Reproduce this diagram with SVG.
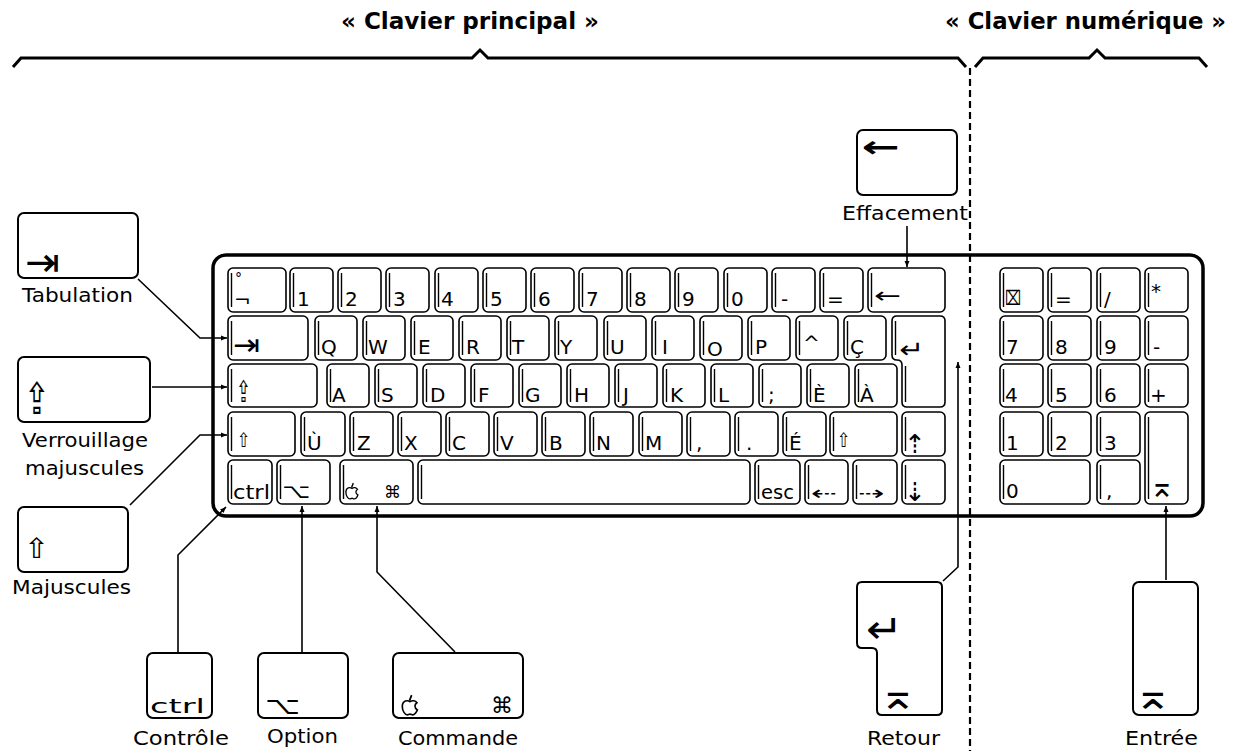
<svg xmlns="http://www.w3.org/2000/svg" width="1236" height="751" viewBox="0 0 1236 751">
<style>
.k{fill:#fff;stroke:#000;stroke-width:1.6}
.d{fill:none;stroke:#000;stroke-width:1.4}
.t{font-family:"DejaVu Sans","Liberation Sans",sans-serif;font-size:20px;fill:#000}
.s{font-family:"DejaVu Sans","Liberation Sans",sans-serif;fill:#000}
.lb{font-family:"DejaVu Sans","Liberation Sans",sans-serif;font-size:20px;fill:#000}
.h{font-family:"DejaVu Sans","Liberation Sans",sans-serif;font-size:23px;font-weight:bold;fill:#000}
.bx{fill:#fff;stroke:#000;stroke-width:2}
.c{fill:none;stroke:#000;stroke-width:1.6}
.br{fill:none;stroke:#000;stroke-width:3}
</style>
<defs>
<marker id="ah" markerWidth="8" markerHeight="8" refX="6" refY="4" orient="auto" markerUnits="userSpaceOnUse"><path d="M0,1.5 L6,4 L0,6.5 z" fill="#000"/></marker>
<symbol id="apple" viewBox="0 0 16 20"><path d="M9.5 1 L7.5 6" fill="none" stroke="#000" stroke-width="1.6"/><path d="M8 7 C6 5.5 1 5.5 1 11.5 C1 16 4 19 5.5 19 C6.5 19 7 18.3 8 18.3 C9 18.3 9.5 19 10.5 19 C12 19 14 16.5 14.7 14.5 C13 13.5 12.5 12 12.5 11 C12.5 9.5 13.5 8.5 14.3 8 C13 6 10 5.5 8 7 Z" fill="none" stroke="#000" stroke-width="1.5"/></symbol>
</defs>
<rect width="1236" height="751" fill="#fff"/>

<g id="headers">
<text class="h" x="341" y="29" textLength="258" lengthAdjust="spacingAndGlyphs">« Clavier principal »</text>
<text class="h" x="945" y="29" textLength="281" lengthAdjust="spacingAndGlyphs">« Clavier numérique »</text>
<path class="br" d="M13 67 L21 58 L472 58 L480 50 L488 58 L958 58 L966 67"/>
<path class="br" d="M975 67 L983 58 L1089 58 L1097 50 L1105 58 L1199 58 L1207 67"/>
</g>

<g id="keyboard">
<rect x="213" y="255" width="990" height="261" rx="13" fill="#fff" stroke="#000" stroke-width="3.5"/>
<!-- row 1 -->
<g id="k-deg"><rect class="k" x="228" y="268" width="58" height="44" rx="5"/><path class="d" d="M231.5 273V307"/><text class="s" x="235" y="283" font-size="14">°</text><text class="t" x="234" y="307">¬</text></g>
<g id="k-1"><rect class="k" x="290" y="268" width="43" height="44" rx="5"/><path class="d" d="M293.5 273V307"/><text class="t" x="297" y="306">1</text></g>
<g id="k-2"><rect class="k" x="338" y="268" width="43" height="44" rx="5"/><path class="d" d="M341.5 273V307"/><text class="t" x="345" y="306">2</text></g>
<g id="k-3"><rect class="k" x="386" y="268" width="43" height="44" rx="5"/><path class="d" d="M389.5 273V307"/><text class="t" x="393" y="306">3</text></g>
<g id="k-4"><rect class="k" x="435" y="268" width="43" height="44" rx="5"/><path class="d" d="M438.5 273V307"/><text class="t" x="441" y="306">4</text></g>
<g id="k-5"><rect class="k" x="483" y="268" width="43" height="44" rx="5"/><path class="d" d="M486.5 273V307"/><text class="t" x="490" y="306">5</text></g>
<g id="k-6"><rect class="k" x="531" y="268" width="43" height="44" rx="5"/><path class="d" d="M534.5 273V307"/><text class="t" x="538" y="306">6</text></g>
<g id="k-7"><rect class="k" x="579" y="268" width="43" height="44" rx="5"/><path class="d" d="M582.5 273V307"/><text class="t" x="586" y="306">7</text></g>
<g id="k-8"><rect class="k" x="627" y="268" width="43" height="44" rx="5"/><path class="d" d="M630.5 273V307"/><text class="t" x="634" y="306">8</text></g>
<g id="k-9"><rect class="k" x="675" y="268" width="43" height="44" rx="5"/><path class="d" d="M678.5 273V307"/><text class="t" x="682" y="306">9</text></g>
<g id="k-0"><rect class="k" x="724" y="268" width="43" height="44" rx="5"/><path class="d" d="M727.5 273V307"/><text class="t" x="731" y="306">0</text></g>
<g id="k-minus"><rect class="k" x="772" y="268" width="43" height="44" rx="5"/><path class="d" d="M775.5 273V307"/><text class="t" x="781" y="306">-</text></g>
<g id="k-eq"><rect class="k" x="820" y="268" width="43" height="44" rx="5"/><path class="d" d="M823.5 273V307"/><text class="t" x="827" y="306">=</text></g>
<g id="k-bs"><rect class="k" x="868" y="268" width="77" height="44" rx="5"/><path class="d" d="M871.5 273V307"/><text class="s" x="874" y="303" font-size="22" textLength="27" lengthAdjust="spacingAndGlyphs">←</text></g>
<!-- row 2 -->
<g id="k-tab"><rect class="k" x="228" y="316" width="80" height="44" rx="5"/><path class="d" d="M231.5 321V355"/><text class="s" x="233" y="355" font-size="30" textLength="27" lengthAdjust="spacingAndGlyphs">⇥</text></g>
<g id="k-q"><rect class="k" x="315" y="316" width="42" height="44" rx="5"/><path class="d" d="M318.5 321V355"/><text class="t" x="321" y="354">Q</text></g>
<g id="k-w"><rect class="k" x="363" y="316" width="42" height="44" rx="5"/><path class="d" d="M366.5 321V355"/><text class="t" x="368" y="354">W</text></g>
<g id="k-e"><rect class="k" x="411" y="316" width="42" height="44" rx="5"/><path class="d" d="M414.5 321V355"/><text class="t" x="418" y="354">E</text></g>
<g id="k-r"><rect class="k" x="459" y="316" width="42" height="44" rx="5"/><path class="d" d="M462.5 321V355"/><text class="t" x="466" y="354">R</text></g>
<g id="k-t"><rect class="k" x="507" y="316" width="42" height="44" rx="5"/><path class="d" d="M510.5 321V355"/><text class="t" x="512" y="354">T</text></g>
<g id="k-y"><rect class="k" x="555" y="316" width="42" height="44" rx="5"/><path class="d" d="M558.5 321V355"/><text class="t" x="560" y="354">Y</text></g>
<g id="k-u"><rect class="k" x="604" y="316" width="42" height="44" rx="5"/><path class="d" d="M607.5 321V355"/><text class="t" x="610" y="354">U</text></g>
<g id="k-i"><rect class="k" x="652" y="316" width="42" height="44" rx="5"/><path class="d" d="M655.5 321V355"/><text class="t" x="662" y="354">I</text></g>
<g id="k-o"><rect class="k" x="700" y="316" width="42" height="44" rx="5"/><path class="d" d="M703.5 321V355"/><text class="t" x="707" y="356" font-size="17">O</text></g>
<g id="k-p"><rect class="k" x="748" y="316" width="42" height="44" rx="5"/><path class="d" d="M751.5 321V355"/><text class="t" x="755" y="354">P</text></g>
<g id="k-circ"><rect class="k" x="796" y="316" width="42" height="44" rx="5"/><path class="d" d="M799.5 321V355"/><text class="t" x="803" y="350">^</text></g>
<g id="k-cced"><rect class="k" x="844" y="316" width="42" height="44" rx="5"/><path class="d" d="M847.5 321V355"/><text class="t" x="850" y="354">Ç</text></g>
<g id="k-ret"><path class="k" d="M897 316 H940 Q945 316 945 321 V402 Q945 407 940 407 H907 Q902 407 902 402 V365 Q902 360 897 360 Q892 360 892 355 V321 Q892 316 897 316 Z"/><path class="d" d="M895.5 321V355 M905.5 366V402"/><text class="s" x="899" y="358" font-size="24" textLength="25" lengthAdjust="spacingAndGlyphs">↵</text></g>
<!-- row 3 -->
<g id="k-caps"><rect class="k" x="228" y="364" width="89" height="43" rx="5"/><path class="d" d="M231.5 369V402"/><text class="s" x="236" y="402" font-size="30" textLength="15" lengthAdjust="spacingAndGlyphs">⇪</text></g>
<g id="k-a"><rect class="k" x="327" y="364" width="42" height="43" rx="5"/><path class="d" d="M330.5 369V402"/><text class="t" x="332" y="402">A</text></g>
<g id="k-s"><rect class="k" x="375" y="364" width="42" height="43" rx="5"/><path class="d" d="M378.5 369V402"/><text class="t" x="381" y="402">S</text></g>
<g id="k-d"><rect class="k" x="423" y="364" width="42" height="43" rx="5"/><path class="d" d="M426.5 369V402"/><text class="t" x="430" y="402">D</text></g>
<g id="k-f"><rect class="k" x="471" y="364" width="42" height="43" rx="5"/><path class="d" d="M474.5 369V402"/><text class="t" x="478" y="402">F</text></g>
<g id="k-g"><rect class="k" x="519" y="364" width="42" height="43" rx="5"/><path class="d" d="M522.5 369V402"/><text class="t" x="525" y="402">G</text></g>
<g id="k-h"><rect class="k" x="567" y="364" width="42" height="43" rx="5"/><path class="d" d="M570.5 369V402"/><text class="t" x="574" y="402">H</text></g>
<g id="k-j"><rect class="k" x="615" y="364" width="42" height="43" rx="5"/><path class="d" d="M618.5 369V402"/><text class="t" x="623" y="402">J</text></g>
<g id="k-k"><rect class="k" x="663" y="364" width="42" height="43" rx="5"/><path class="d" d="M666.5 369V402"/><text class="t" x="670" y="402">K</text></g>
<g id="k-l"><rect class="k" x="711" y="364" width="42" height="43" rx="5"/><path class="d" d="M714.5 369V402"/><text class="t" x="718" y="402">L</text></g>
<g id="k-semi"><rect class="k" x="759" y="364" width="42" height="43" rx="5"/><path class="d" d="M762.5 369V402"/><text class="t" x="768" y="402">;</text></g>
<g id="k-egrave"><rect class="k" x="807" y="364" width="42" height="43" rx="5"/><path class="d" d="M810.5 369V402"/><text class="t" x="813" y="402">È</text></g>
<g id="k-agrave"><rect class="k" x="855" y="364" width="42" height="43" rx="5"/><path class="d" d="M858.5 369V402"/><text class="t" x="860" y="402">À</text></g>
<!-- row 4 -->
<g id="k-lshift"><rect class="k" x="228" y="412" width="67" height="44" rx="5"/><path class="d" d="M231.5 417V451"/><text class="s" x="237" y="447" font-size="20" textLength="13" lengthAdjust="spacingAndGlyphs">⇧</text></g>
<g id="k-ugrave"><rect class="k" x="301" y="412" width="44" height="44" rx="5"/><path class="d" d="M304.5 417V451"/><text class="t" x="307" y="450">Ù</text></g>
<g id="k-z"><rect class="k" x="350" y="412" width="43" height="44" rx="5"/><path class="d" d="M353.5 417V451"/><text class="t" x="357" y="450">Z</text></g>
<g id="k-x"><rect class="k" x="398" y="412" width="43" height="44" rx="5"/><path class="d" d="M401.5 417V451"/><text class="t" x="404" y="450">X</text></g>
<g id="k-c"><rect class="k" x="446" y="412" width="43" height="44" rx="5"/><path class="d" d="M449.5 417V451"/><text class="t" x="452" y="450">C</text></g>
<g id="k-v"><rect class="k" x="494" y="412" width="43" height="44" rx="5"/><path class="d" d="M497.5 417V451"/><text class="t" x="500" y="450">V</text></g>
<g id="k-b"><rect class="k" x="542" y="412" width="43" height="44" rx="5"/><path class="d" d="M545.5 417V451"/><text class="t" x="549" y="450">B</text></g>
<g id="k-n"><rect class="k" x="590" y="412" width="43" height="44" rx="5"/><path class="d" d="M593.5 417V451"/><text class="t" x="596" y="450">N</text></g>
<g id="k-m"><rect class="k" x="639" y="412" width="43" height="44" rx="5"/><path class="d" d="M642.5 417V451"/><text class="t" x="645" y="450">M</text></g>
<g id="k-comma"><rect class="k" x="687" y="412" width="43" height="44" rx="5"/><path class="d" d="M690.5 417V451"/><text class="t" x="696" y="450">,</text></g>
<g id="k-dot"><rect class="k" x="735" y="412" width="43" height="44" rx="5"/><path class="d" d="M738.5 417V451"/><text class="t" x="746" y="450">.</text></g>
<g id="k-eacute"><rect class="k" x="783" y="412" width="43" height="44" rx="5"/><path class="d" d="M786.5 417V451"/><text class="t" x="789" y="450">É</text></g>
<g id="k-rshift"><rect class="k" x="830" y="412" width="67" height="44" rx="5"/><path class="d" d="M833.5 417V451"/><text class="s" x="837" y="447" font-size="20" textLength="13" lengthAdjust="spacingAndGlyphs">⇧</text></g>
<g id="k-up"><rect class="k" x="902" y="412" width="43" height="44" rx="5"/><path class="d" d="M905.5 417V451"/><text class="s" x="904" y="453" font-size="26">⇡</text></g>
<!-- row 5 -->
<g id="k-ctrl"><rect class="k" x="228" y="460" width="44" height="44" rx="5"/><path class="d" d="M231.5 465V499"/><text class="t" x="233" y="499" font-size="19" textLength="37" lengthAdjust="spacingAndGlyphs">ctrl</text></g>
<g id="k-opt"><rect class="k" x="277" y="460" width="53" height="44" rx="5"/><path class="d" d="M280.5 465V499"/><text class="s" x="282" y="498" font-size="20" textLength="28" lengthAdjust="spacingAndGlyphs">⌥</text></g>
<g id="k-cmd"><rect class="k" x="340" y="460" width="73" height="44" rx="5"/><path class="d" d="M343.5 465V499"/><use href="#apple" x="345" y="482" width="14" height="18"/><text class="s" x="384" y="498" font-size="17">⌘</text></g>
<g id="k-space"><rect class="k" x="418" y="460" width="332" height="44" rx="5"/><path class="d" d="M421.5 465V499"/></g>
<g id="k-esc"><rect class="k" x="755" y="460" width="45" height="44" rx="5"/><path class="d" d="M758.5 465V499"/><text class="t" x="761" y="499" font-size="19" textLength="33" lengthAdjust="spacingAndGlyphs">esc</text></g>
<g id="k-left"><rect class="k" x="805" y="460" width="43" height="44" rx="5"/><path class="d" d="M808.5 465V499"/><text class="s" x="811" y="500" font-size="20" textLength="26" lengthAdjust="spacingAndGlyphs">⇠</text></g>
<g id="k-right"><rect class="k" x="853" y="460" width="44" height="44" rx="5"/><path class="d" d="M856.5 465V499"/><text class="s" x="858" y="500" font-size="20" textLength="27" lengthAdjust="spacingAndGlyphs">⇢</text></g>
<g id="k-down"><rect class="k" x="902" y="460" width="43" height="44" rx="5"/><path class="d" d="M905.5 465V499"/><text class="s" x="904" y="501" font-size="26">⇣</text></g>
<!-- keypad -->
<g id="p-clear"><rect class="k" x="1000" y="268" width="43" height="44" rx="5"/><path class="d" d="M1003.5 273V307"/><text class="s" x="1005" y="305" font-size="20" textLength="16" lengthAdjust="spacingAndGlyphs">⌧</text></g>
<g id="p-eq"><rect class="k" x="1048" y="268" width="43" height="44" rx="5"/><path class="d" d="M1051.5 273V307"/><text class="t" x="1055" y="306">=</text></g>
<g id="p-div"><rect class="k" x="1097" y="268" width="43" height="44" rx="5"/><path class="d" d="M1100.5 273V307"/><text class="t" x="1104" y="306">/</text></g>
<g id="p-mul"><rect class="k" x="1145" y="268" width="43" height="44" rx="5"/><path class="d" d="M1148.5 273V307"/><text class="t" x="1151" y="298">*</text></g>
<g id="p-7"><rect class="k" x="1000" y="316" width="43" height="44" rx="5"/><path class="d" d="M1003.5 321V355"/><text class="t" x="1006" y="354">7</text></g>
<g id="p-8"><rect class="k" x="1048" y="316" width="43" height="44" rx="5"/><path class="d" d="M1051.5 321V355"/><text class="t" x="1055" y="354">8</text></g>
<g id="p-9"><rect class="k" x="1097" y="316" width="43" height="44" rx="5"/><path class="d" d="M1100.5 321V355"/><text class="t" x="1104" y="354">9</text></g>
<g id="p-minus"><rect class="k" x="1145" y="316" width="43" height="44" rx="5"/><path class="d" d="M1148.5 321V355"/><text class="t" x="1153" y="354">-</text></g>
<g id="p-4"><rect class="k" x="1000" y="364" width="43" height="43" rx="5"/><path class="d" d="M1003.5 369V402"/><text class="t" x="1005" y="402">4</text></g>
<g id="p-5"><rect class="k" x="1048" y="364" width="43" height="43" rx="5"/><path class="d" d="M1051.5 369V402"/><text class="t" x="1055" y="402">5</text></g>
<g id="p-6"><rect class="k" x="1097" y="364" width="43" height="43" rx="5"/><path class="d" d="M1100.5 369V402"/><text class="t" x="1104" y="402">6</text></g>
<g id="p-plus"><rect class="k" x="1145" y="364" width="43" height="43" rx="5"/><path class="d" d="M1148.5 369V402"/><text class="t" x="1150" y="402">+</text></g>
<g id="p-1"><rect class="k" x="1000" y="412" width="43" height="44" rx="5"/><path class="d" d="M1003.5 417V451"/><text class="t" x="1006" y="450">1</text></g>
<g id="p-2"><rect class="k" x="1048" y="412" width="43" height="44" rx="5"/><path class="d" d="M1051.5 417V451"/><text class="t" x="1055" y="450">2</text></g>
<g id="p-3"><rect class="k" x="1097" y="412" width="43" height="44" rx="5"/><path class="d" d="M1100.5 417V451"/><text class="t" x="1104" y="450">3</text></g>
<g id="p-0"><rect class="k" x="1000" y="460" width="90" height="44" rx="5"/><path class="d" d="M1003.5 465V499"/><text class="t" x="1006" y="498">0</text></g>
<g id="p-comma"><rect class="k" x="1097" y="460" width="43" height="44" rx="5"/><path class="d" d="M1100.5 465V499"/><text class="t" x="1106" y="498">,</text></g>
<g id="p-enter"><rect class="k" x="1145" y="412" width="43" height="92" rx="5"/><path class="d" d="M1148.5 417V499"/><text class="s" x="1149" y="497" font-size="32" textLength="26" lengthAdjust="spacingAndGlyphs">⌅</text></g>
</g>

<line id="separator" x1="970" y1="68" x2="970" y2="751" stroke="#000" stroke-width="2.2" stroke-dasharray="7 4"/>

<g id="n-tab"><rect class="bx" x="18" y="213" width="120" height="65" rx="6"/><text class="s" x="25" y="276" font-size="40" textLength="35" lengthAdjust="spacingAndGlyphs">⇥</text><text class="lb" x="22" y="302" textLength="111" lengthAdjust="spacingAndGlyphs">Tabulation</text></g>
<g id="n-caps"><rect class="bx" x="18" y="357" width="132" height="65" rx="6"/><text class="s" x="24" y="414" font-size="44" textLength="26" lengthAdjust="spacingAndGlyphs">⇪</text><text class="lb" x="22" y="447" textLength="126" lengthAdjust="spacingAndGlyphs">Verrouillage</text><text class="lb" x="25" y="475" textLength="119" lengthAdjust="spacingAndGlyphs">majuscules</text></g>
<g id="n-shift"><rect class="bx" x="18" y="507" width="110" height="65" rx="6"/><text class="s" x="24" y="558" font-size="28" textLength="25" lengthAdjust="spacingAndGlyphs">⇧</text><text class="lb" x="12" y="594" textLength="119" lengthAdjust="spacingAndGlyphs">Majuscules</text></g>
<g id="n-ctrl"><rect class="bx" x="147" y="653" width="65" height="65" rx="6"/><text class="lb" x="150" y="713" textLength="55" lengthAdjust="spacingAndGlyphs">ctrl</text><text class="lb" x="133" y="745" textLength="96" lengthAdjust="spacingAndGlyphs">Contrôle</text></g>
<g id="n-opt"><rect class="bx" x="258" y="653" width="90" height="65" rx="6"/><text class="s" x="265" y="714" font-size="24" textLength="35" lengthAdjust="spacingAndGlyphs">⌥</text><text class="lb" x="267" y="743" textLength="71" lengthAdjust="spacingAndGlyphs">Option</text></g>
<g id="n-cmd"><rect class="bx" x="393" y="653" width="130" height="65" rx="6"/><use href="#apple" x="401" y="694" width="18" height="22"/><text class="s" x="491" y="713" font-size="22">⌘</text><text class="lb" x="398" y="745" textLength="120" lengthAdjust="spacingAndGlyphs">Commande</text></g>
<g id="n-bs"><rect class="bx" x="857" y="130" width="100" height="65" rx="6"/><text class="s" x="862" y="157" font-size="30" font-weight="bold" textLength="38" lengthAdjust="spacingAndGlyphs">←</text><text class="lb" x="842" y="220" textLength="126" lengthAdjust="spacingAndGlyphs">Effacement</text></g>
<g id="n-ret"><path class="bx" d="M862 582 H937 Q942 582 942 587 V710 Q942 715 937 715 H882 Q877 715 877 710 V653 Q877 648 872 648 H862 Q857 648 857 643 V587 Q857 582 862 582 Z"/><text class="s" x="866" y="643" font-size="40" textLength="37" lengthAdjust="spacingAndGlyphs">↵</text><text class="s" x="878" y="709" font-size="40" textLength="40" lengthAdjust="spacingAndGlyphs">⌅</text><text class="lb" x="867" y="745" textLength="73" lengthAdjust="spacingAndGlyphs">Retour</text></g>
<g id="n-enter"><rect class="bx" x="1133" y="582" width="65" height="133" rx="6"/><text class="s" x="1133" y="709" font-size="40" textLength="40" lengthAdjust="spacingAndGlyphs">⌅</text><text class="lb" x="1125" y="745" textLength="73" lengthAdjust="spacingAndGlyphs">Entrée</text></g>

<g id="connectors">
<path class="c" d="M138 279 L200 338 L227 338" marker-end="url(#ah)"/>
<path class="c" d="M152 387 L227 387" marker-end="url(#ah)"/>
<path class="c" d="M130 505 L200 435 L227 435" marker-end="url(#ah)"/>
<path class="c" d="M178 652 L178 555 L226 507" marker-end="url(#ah)"/>
<path class="c" d="M302 652 L302 506" marker-end="url(#ah)"/>
<path class="c" d="M455 652 L377 572 L377 506" marker-end="url(#ah)"/>
<path class="c" d="M907 226 L907 267" marker-end="url(#ah)"/>
<path class="c" d="M943 581 L958 567 L958 362" marker-end="url(#ah)"/>
<path class="c" d="M1166 580 L1166 506" marker-end="url(#ah)"/>
</g>
</svg>
